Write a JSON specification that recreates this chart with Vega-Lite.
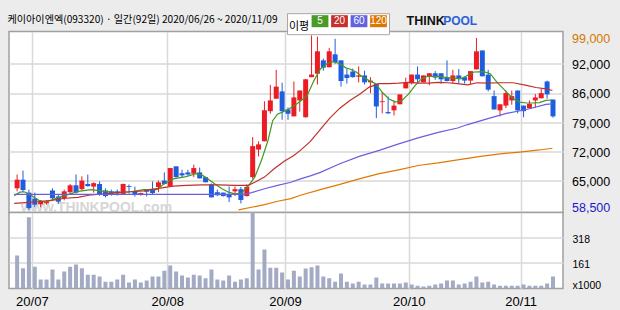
{
  "$schema": "https://vega.github.io/schema/vega-lite/v6.json",
  "background": "#ececec",
  "padding": {"left": 6, "top": 12.5, "right": 20, "bottom": 10},
  "bounds": "flush",
  "spacing": 0,
  "datasets": {
    "candles": [
      {"i":0,"o":63500,"c":65500,"h":66700,"l":62800,"v":207},
      {"i":1,"o":65500,"c":63100,"h":67600,"l":62600,"v":127},
      {"i":2,"o":62500,"c":58900,"h":63200,"l":58500,"v":447},
      {"i":3,"o":61100,"c":59700,"h":62500,"l":59100,"v":137},
      {"i":4,"o":59800,"c":60400,"h":60700,"l":59100,"v":56},
      {"i":5,"o":60000,"c":60300,"h":60700,"l":59700,"v":56},
      {"i":6,"o":63000,"c":61200,"h":63500,"l":60700,"v":119},
      {"i":7,"o":61600,"c":60400,"h":62100,"l":59900,"v":56},
      {"i":8,"o":61200,"c":62800,"h":63200,"l":60700,"v":106},
      {"i":9,"o":62600,"c":64200,"h":64500,"l":62200,"v":137},
      {"i":10,"o":64200,"c":62500,"h":66700,"l":62300,"v":150},
      {"i":11,"o":63300,"c":65300,"h":66300,"l":63000,"v":127},
      {"i":12,"o":64500,"c":64000,"h":66700,"l":63900,"v":87},
      {"i":13,"o":63900,"c":64700,"h":64900,"l":62500,"v":87},
      {"i":14,"o":64500,"c":62200,"h":65100,"l":61800,"v":75},
      {"i":15,"o":63000,"c":61700,"h":63500,"l":61400,"v":43},
      {"i":16,"o":62800,"c":62200,"h":63200,"l":61800,"v":43},
      {"i":17,"o":62800,"c":62300,"h":63200,"l":61800,"v":56},
      {"i":18,"o":62200,"c":64500,"h":64600,"l":62100,"v":87},
      {"i":19,"o":64000,"c":63800,"h":64400,"l":62300,"v":37},
      {"i":20,"o":62800,"c":62100,"h":63900,"l":61600,"v":56},
      {"i":21,"o":62000,"c":62400,"h":62500,"l":61800,"v":37},
      {"i":22,"o":63000,"c":62700,"h":63200,"l":61600,"v":50},
      {"i":23,"o":63400,"c":62400,"h":65100,"l":62100,"v":75},
      {"i":24,"o":63800,"c":64900,"h":65300,"l":62600,"v":75},
      {"i":25,"o":65300,"c":64500,"h":67200,"l":64400,"v":112},
      {"i":26,"o":64000,"c":68200,"h":68200,"l":63900,"v":144},
      {"i":27,"o":68600,"c":66100,"h":68600,"l":66000,"v":106},
      {"i":28,"o":67000,"c":66500,"h":67800,"l":66100,"v":81},
      {"i":29,"o":67200,"c":66700,"h":67800,"l":66500,"v":69},
      {"i":30,"o":66900,"c":68200,"h":69000,"l":66100,"v":87},
      {"i":31,"o":67200,"c":65800,"h":68300,"l":65800,"v":81},
      {"i":32,"o":66100,"c":64900,"h":66200,"l":64900,"v":64},
      {"i":33,"o":64400,"c":61400,"h":64600,"l":61400,"v":119},
      {"i":34,"o":62600,"c":61900,"h":63200,"l":61700,"v":56},
      {"i":35,"o":62500,"c":61700,"h":62500,"l":61600,"v":50},
      {"i":36,"o":62200,"c":61400,"h":63900,"l":60300,"v":81},
      {"i":37,"o":62800,"c":63300,"h":63900,"l":61700,"v":43},
      {"i":38,"o":63300,"c":60800,"h":63800,"l":60000,"v":56},
      {"i":39,"o":61700,"c":63800,"h":64400,"l":61600,"v":64},
      {"i":40,"o":66100,"c":73300,"h":75400,"l":65700,"v":520},
      {"i":41,"o":72500,"c":73700,"h":74400,"l":70900,"v":119},
      {"i":42,"o":74400,"c":81600,"h":83700,"l":74400,"v":244},
      {"i":43,"o":81400,"c":83900,"h":87500,"l":80800,"v":131},
      {"i":44,"o":84300,"c":87100,"h":91000,"l":84300,"v":131},
      {"i":45,"o":86000,"c":81400,"h":88000,"l":79400,"v":100},
      {"i":46,"o":81800,"c":80800,"h":82300,"l":79400,"v":56},
      {"i":47,"o":80200,"c":84600,"h":88300,"l":80200,"v":112},
      {"i":48,"o":83900,"c":86200,"h":86200,"l":81300,"v":75},
      {"i":49,"o":80000,"c":88800,"h":88900,"l":79900,"v":125},
      {"i":50,"o":89300,"c":89900,"h":99000,"l":89300,"v":133},
      {"i":51,"o":90100,"c":95300,"h":98700,"l":87600,"v":144},
      {"i":52,"o":93200,"c":91500,"h":93600,"l":90800,"v":75},
      {"i":53,"o":91600,"c":95300,"h":96100,"l":91600,"v":64},
      {"i":54,"o":94600,"c":92800,"h":98200,"l":92400,"v":43},
      {"i":55,"o":93200,"c":88400,"h":93200,"l":87100,"v":94},
      {"i":56,"o":89900,"c":89100,"h":91200,"l":87800,"v":43},
      {"i":57,"o":90600,"c":89300,"h":91300,"l":89200,"v":31},
      {"i":58,"o":89400,"c":89700,"h":91800,"l":88100,"v":43},
      {"i":59,"o":89700,"c":88100,"h":90800,"l":87600,"v":25},
      {"i":60,"o":88100,"c":88500,"h":89300,"l":85600,"v":25},
      {"i":61,"o":87800,"c":82500,"h":87800,"l":79800,"v":69},
      {"i":62,"o":83500,"c":83700,"h":85800,"l":80900,"v":31},
      {"i":63,"o":81200,"c":80900,"h":84800,"l":80800,"v":31},
      {"i":64,"o":81600,"c":82700,"h":83900,"l":80400,"v":31},
      {"i":65,"o":83000,"c":85300,"h":85300,"l":83000,"v":31},
      {"i":66,"o":86700,"c":88100,"h":89200,"l":86700,"v":37},
      {"i":67,"o":87900,"c":89900,"h":89900,"l":87600,"v":25},
      {"i":68,"o":89900,"c":88800,"h":91800,"l":88100,"v":18},
      {"i":69,"o":88100,"c":89700,"h":89700,"l":88100,"v":12},
      {"i":70,"o":89500,"c":90200,"h":90200,"l":87400,"v":18},
      {"i":71,"o":90200,"c":89200,"h":90700,"l":88700,"v":25},
      {"i":72,"o":90200,"c":88800,"h":90200,"l":87800,"v":31},
      {"i":73,"o":89200,"c":88400,"h":93200,"l":88300,"v":50},
      {"i":74,"o":88400,"c":89700,"h":91000,"l":87800,"v":50},
      {"i":75,"o":89700,"c":89100,"h":91200,"l":87800,"v":25},
      {"i":76,"o":89300,"c":88500,"h":89300,"l":87800,"v":31},
      {"i":77,"o":88500,"c":90700,"h":90700,"l":87600,"v":43},
      {"i":78,"o":91100,"c":95300,"h":98400,"l":91100,"v":75},
      {"i":79,"o":95500,"c":89500,"h":95500,"l":89500,"v":37},
      {"i":80,"o":89900,"c":86400,"h":91000,"l":86000,"v":43},
      {"i":81,"o":84900,"c":81800,"h":86200,"l":81800,"v":25},
      {"i":82,"o":81600,"c":83000,"h":83000,"l":80200,"v":18},
      {"i":83,"o":82700,"c":85600,"h":86200,"l":82100,"v":18},
      {"i":84,"o":83900,"c":84900,"h":86200,"l":82900,"v":18},
      {"i":85,"o":86200,"c":81600,"h":86200,"l":80900,"v":18},
      {"i":86,"o":82700,"c":81400,"h":82700,"l":80000,"v":25},
      {"i":87,"o":82100,"c":83100,"h":83900,"l":82100,"v":18},
      {"i":88,"o":83900,"c":84600,"h":85400,"l":82200,"v":18},
      {"i":89,"o":84400,"c":85600,"h":86600,"l":84400,"v":18},
      {"i":90,"o":88300,"c":85300,"h":88500,"l":84300,"v":31},
      {"i":91,"o":84100,"c":80200,"h":84100,"l":79900,"v":75}
    ],
    "ma": [
      {"n":"5","i":-0.5,"v":61800},{"n":"5","i":0.5,"v":62600},{"n":"5","i":1.2,"v":62700},{"n":"5","i":2,"v":62200},{"n":"5","i":3,"v":61300},{"n":"5","i":3.7,"v":60700},{"n":"5","i":4.8,"v":60300},{"n":"5","i":6.5,"v":61100},{"n":"5","i":8.1,"v":61800},{"n":"5","i":10.35,"v":62800},{"n":"5","i":12.6,"v":63200},{"n":"5","i":14.8,"v":62800},{"n":"5","i":17,"v":62500},{"n":"5","i":19.25,"v":62700},{"n":"5","i":21.5,"v":63200},{"n":"5","i":23.7,"v":63200},{"n":"5","i":24.8,"v":64400},{"n":"5","i":26.5,"v":65700},{"n":"5","i":28.7,"v":66200},{"n":"5","i":30.35,"v":66900},{"n":"5","i":31.5,"v":66500},{"n":"5","i":32.6,"v":65500},{"n":"5","i":33.7,"v":64400},{"n":"5","i":34.8,"v":63400},{"n":"5","i":35.9,"v":62600},{"n":"5","i":37,"v":62200},{"n":"5","i":38.1,"v":62400},{"n":"5","i":39.25,"v":64000},{"n":"5","i":40.35,"v":66100},{"n":"5","i":41.5,"v":70000},{"n":"5","i":42.6,"v":74600},{"n":"5","i":43.4,"v":79200},{"n":"5","i":44.2,"v":80700},{"n":"5","i":45.9,"v":81700},{"n":"5","i":47.6,"v":83200},{"n":"5","i":49.25,"v":85000},{"n":"5","i":50.4,"v":88500},{"n":"5","i":51.5,"v":91200},{"n":"5","i":52.6,"v":92400},{"n":"5","i":53.7,"v":92900},{"n":"5","i":54.8,"v":92400},{"n":"5","i":55.9,"v":91400},{"n":"5","i":56.5,"v":91200},{"n":"5","i":57.6,"v":90500},{"n":"5","i":58.7,"v":89300},{"n":"5","i":59.8,"v":88500},{"n":"5","i":60.9,"v":87800},{"n":"5","i":62,"v":85800},{"n":"5","i":63.1,"v":84300},{"n":"5","i":64.25,"v":83500},{"n":"5","i":65.35,"v":83900},{"n":"5","i":66.5,"v":85400},{"n":"5","i":67.6,"v":87400},{"n":"5","i":68.7,"v":88900},{"n":"5","i":69.8,"v":89500},{"n":"5","i":71.5,"v":89500},{"n":"5","i":73.1,"v":89200},{"n":"5","i":75.35,"v":88900},{"n":"5","i":77.6,"v":90500},{"n":"5","i":79.25,"v":90600},{"n":"5","i":80.35,"v":90100},{"n":"5","i":81.5,"v":88100},{"n":"5","i":82.6,"v":86600},{"n":"5","i":83.4,"v":85400},{"n":"5","i":84.25,"v":84300},{"n":"5","i":85.35,"v":83500},{"n":"5","i":86.5,"v":83300},{"n":"5","i":87.6,"v":83300},{"n":"5","i":88.7,"v":83400},{"n":"5","i":89.8,"v":83900},{"n":"5","i":90.9,"v":84000},
      {"n":"20","i":-0.5,"v":60000},{"n":"20","i":1.5,"v":60200},{"n":"20","i":3.7,"v":60400},{"n":"20","i":5.9,"v":60700},{"n":"20","i":8.1,"v":61200},{"n":"20","i":10.35,"v":61400},{"n":"20","i":12.6,"v":62000},{"n":"20","i":14.8,"v":62200},{"n":"20","i":17,"v":62500},{"n":"20","i":19.25,"v":62700},{"n":"20","i":21.5,"v":62900},{"n":"20","i":24,"v":63500},{"n":"20","i":26.5,"v":64000},{"n":"20","i":28.7,"v":64200},{"n":"20","i":31.5,"v":64300},{"n":"20","i":34.25,"v":64300},{"n":"20","i":37,"v":64200},{"n":"20","i":39.25,"v":64200},{"n":"20","i":40.35,"v":64900},{"n":"20","i":42,"v":66100},{"n":"20","i":43.7,"v":68100},{"n":"20","i":45.35,"v":69800},{"n":"20","i":47,"v":71100},{"n":"20","i":48.1,"v":72300},{"n":"20","i":49.8,"v":74400},{"n":"20","i":51.5,"v":77200},{"n":"20","i":53.1,"v":79800},{"n":"20","i":54.8,"v":82100},{"n":"20","i":56.5,"v":83900},{"n":"20","i":58.1,"v":85300},{"n":"20","i":59.8,"v":87000},{"n":"20","i":61.5,"v":87800},{"n":"20","i":63.1,"v":87800},{"n":"20","i":64.8,"v":87900},{"n":"20","i":66.5,"v":88100},{"n":"20","i":68.1,"v":87900},{"n":"20","i":69.8,"v":87900},{"n":"20","i":71.5,"v":88100},{"n":"20","i":73.1,"v":88000},{"n":"20","i":74.8,"v":87800},{"n":"20","i":76.5,"v":87500},{"n":"20","i":78.1,"v":88000},{"n":"20","i":79.8,"v":87900},{"n":"20","i":82,"v":88000},{"n":"20","i":84.25,"v":88000},{"n":"20","i":86.5,"v":87400},{"n":"20","i":88.1,"v":86900},{"n":"20","i":89.8,"v":86600},{"n":"20","i":90.9,"v":86200},
      {"n":"60","i":-0.5,"v":62100},{"n":"60","i":20,"v":62100},{"n":"60","i":38.6,"v":62100},{"n":"60","i":39.8,"v":62500},{"n":"60","i":42,"v":63400},{"n":"60","i":44.25,"v":64200},{"n":"60","i":46.5,"v":64900},{"n":"60","i":48.1,"v":65700},{"n":"60","i":49.8,"v":66400},{"n":"60","i":51.5,"v":67200},{"n":"60","i":54.8,"v":69200},{"n":"60","i":58.1,"v":70900},{"n":"60","i":61.5,"v":72300},{"n":"60","i":64.8,"v":73800},{"n":"60","i":68.1,"v":75200},{"n":"60","i":71.5,"v":76500},{"n":"60","i":74.8,"v":77500},{"n":"60","i":76.5,"v":78300},{"n":"60","i":79.8,"v":79600},{"n":"60","i":83.1,"v":80900},{"n":"60","i":86.5,"v":81800},{"n":"60","i":89.8,"v":83000},{"n":"60","i":90.9,"v":83100},
      {"n":"120","i":37.6,"v":58500},{"n":"120","i":39.8,"v":59100},{"n":"120","i":42,"v":59700},{"n":"120","i":44.25,"v":60500},{"n":"120","i":46.5,"v":61100},{"n":"120","i":48.1,"v":61900},{"n":"120","i":51.5,"v":63200},{"n":"120","i":54.8,"v":64400},{"n":"120","i":58.1,"v":65700},{"n":"120","i":61.5,"v":66900},{"n":"120","i":64.8,"v":67800},{"n":"120","i":68.1,"v":68800},{"n":"120","i":71.5,"v":69400},{"n":"120","i":75.35,"v":70200},{"n":"120","i":78.7,"v":70900},{"n":"120","i":82,"v":71500},{"n":"120","i":85.35,"v":71900},{"n":"120","i":88.7,"v":72400},{"n":"120","i":90.9,"v":72800}
    ]
  },
  "vconcat": [
    {
      "width": 554,
      "height": 181,
      "encoding": {
        "x": {
          "field": "i", "type": "quantitative",
          "scale": {"domain": [-0.53, 91.85], "nice": false, "zero": false},
          "axis": {
            "values": [2.5, 25.5, 45.5, 66.5, 85.5], "labels": false, "grid": true,
            "title": "www.THINKPOOL.com", "titleX": 87, "titleY": -1, "titleAlign": "center",
            "titleBaseline": "alphabetic", "titleFont": "Liberation Sans", "titleFontSize": 14,
            "titleFontWeight": "bold", "titleColor": "#d6d6d6"
          }
        }
      },
      "layer": [
        {
          "data": {"name": "candles"},
          "mark": {"type": "rule", "strokeWidth": 1},
          "encoding": {
            "y": {
              "field": "l", "type": "quantitative", "title": "POOL",
              "scale": {"domain": [57887, 99897], "nice": false, "zero": false},
              "axis": {
                "orient": "right",
                "values": [58500, 65200, 72000, 78800, 85600, 92400, 99000],
                "labelExpr": "datum.value == 58500 ? '58,500' : format(round(datum.value / 1000) * 1000, ',')",
                "labelFontSize": 12.5, "labelPadding": 8.5,
                "labelOffset": {"condition": [{"test": "datum.value == 99000", "value": 3}, {"test": "datum.value == 58500", "value": -2.5}], "value": 0.8},
                "labelColor": {"condition": [{"test": "datum.value == 99000", "value": "#d47800"}, {"test": "datum.value == 58500", "value": "#1a1acc"}], "value": "#000000"},
                "gridOpacity": {"condition": {"test": "datum.value == 58500 || datum.value == 99000", "value": 0}, "value": 1},
                "title": "POOL", "titleX": -120.3, "titleY": -11, "titleAngle": 0, "titleAlign": "left",
                "titleBaseline": "middle", "titleFont": "Liberation Sans", "titleFontSize": 12,
                "titleFontWeight": "bold", "titleColor": "#2a62d6"
              }
            },
            "y2": {"field": "h"},
            "color": {"condition": {"test": "datum.c >= datum.o", "value": "#ec1c24"}, "value": "#1f5ddf"}
          }
        },
        {
          "data": {"name": "candles"},
          "mark": {"type": "bar", "size": 5},
          "encoding": {
            "y": {
              "field": "o", "type": "quantitative", "title": "POOL",
              "scale": {"domain": [57887, 99897], "nice": false, "zero": false},
              "axis": {
                "orient": "right",
                "values": [58500, 65200, 72000, 78800, 85600, 92400, 99000],
                "labelExpr": "datum.value == 58500 ? '58,500' : format(round(datum.value / 1000) * 1000, ',')",
                "labelFontSize": 12.5, "labelPadding": 8.5,
                "labelOffset": {"condition": [{"test": "datum.value == 99000", "value": 3}, {"test": "datum.value == 58500", "value": -2.5}], "value": 0.8},
                "labelColor": {"condition": [{"test": "datum.value == 99000", "value": "#d47800"}, {"test": "datum.value == 58500", "value": "#1a1acc"}], "value": "#000000"},
                "gridOpacity": {"condition": {"test": "datum.value == 58500 || datum.value == 99000", "value": 0}, "value": 1},
                "title": "POOL", "titleX": -120.3, "titleY": -11, "titleAngle": 0, "titleAlign": "left",
                "titleBaseline": "middle", "titleFont": "Liberation Sans", "titleFontSize": 12,
                "titleFontWeight": "bold", "titleColor": "#2a62d6"
              }
            },
            "y2": {"field": "c"},
            "color": {"condition": {"test": "datum.c >= datum.o", "value": "#ec1c24"}, "value": "#1f5ddf"}
          }
        },
        {
          "data": {"name": "ma"},
          "mark": {"type": "line"},
          "encoding": {
            "y": {
              "field": "v", "type": "quantitative", "title": "POOL",
              "scale": {"domain": [57887, 99897], "nice": false, "zero": false},
              "axis": {
                "orient": "right",
                "values": [58500, 65200, 72000, 78800, 85600, 92400, 99000],
                "labelExpr": "datum.value == 58500 ? '58,500' : format(round(datum.value / 1000) * 1000, ',')",
                "labelFontSize": 12.5, "labelPadding": 8.5,
                "labelOffset": {"condition": [{"test": "datum.value == 99000", "value": 3}, {"test": "datum.value == 58500", "value": -2.5}], "value": 0.8},
                "labelColor": {"condition": [{"test": "datum.value == 99000", "value": "#d47800"}, {"test": "datum.value == 58500", "value": "#1a1acc"}], "value": "#000000"},
                "gridOpacity": {"condition": {"test": "datum.value == 58500 || datum.value == 99000", "value": 0}, "value": 1},
                "title": "POOL", "titleX": -120.3, "titleY": -11, "titleAngle": 0, "titleAlign": "left",
                "titleBaseline": "middle", "titleFont": "Liberation Sans", "titleFontSize": 12,
                "titleFontWeight": "bold", "titleColor": "#2a62d6"
              }
            },
            "color": {
              "field": "n", "type": "nominal",
              "scale": {"domain": ["5", "20", "60", "120"], "range": ["#3f9a22", "#c0302a", "#6a5ee0", "#e07800"]},
              "legend": {
                "title": "이평", "orient": "none", "legendX": 278, "legendY": -18.3, "direction": "horizontal",
                "titleOrient": "left", "titleAngle": 0, "titleFont": "Noto Sans CJK KR", "titleFontSize": 11,
                "titleFontWeight": "normal", "titleColor": "#000000", "titlePadding": 4, "titleBaseline": "top",
                "fillColor": "white", "strokeColor": "#a8a8a8", "padding": 2,
                "symbolType": "M-1.4,-1H1.4V1H-1.4Z", "symbolSize": 144, "symbolStrokeWidth": 0,
                "labelColor": "white", "labelFont": "Liberation Sans", "labelFontSize": 10,
                "labelAlign": "center", "labelOffset": -6, "columnPadding": 1.5,
                "encode": {
                  "symbols": {
                    "update": {
                      "fill": {"signal": "datum.value == '5' ? '#4a9a28' : datum.value == '20' ? '#c8302c' : datum.value == '60' ? '#6262e0' : '#dc7800'"},
                      "fillOpacity": {"value": 1},
                      "strokeWidth": {"value": 0}
                    }
                  }
                }
              }
            },
            "strokeWidth": {"value": 1.2}
          }
        }
      ]
    },
    {
      "width": 554,
      "height": 76,
      "data": {"name": "candles"},
      "mark": {"type": "bar", "size": 4, "color": "#a3aac3", "clip": true},
      "encoding": {
        "x": {
          "field": "i", "type": "quantitative",
          "scale": {"domain": [-0.53, 91.85], "nice": false, "zero": false},
          "axis": {
            "values": [2.5, 25.5, 45.5, 66.5, 85.5], "grid": true,
            "labelExpr": "datum.value < 10 ? '20/07' : datum.value < 30 ? '20/08' : datum.value < 50 ? '20/09' : datum.value < 70 ? '20/10' : '20/11'",
            "labelFontSize": 13, "labelPadding": 6.5,
            "title": "THINK", "titleX": 397, "titleY": -268, "titleAlign": "left", "titleBaseline": "middle",
            "titleFont": "Liberation Sans", "titleFontSize": 12.5, "titleFontWeight": "bold", "titleColor": "#111111"
          }
        },
        "y": {
          "field": "v", "type": "quantitative",
          "scale": {"domain": [0, 477], "nice": false},
          "axis": {
            "orient": "right", "values": [0, 161, 318],
            "labelExpr": "datum.value == 0 ? 'x1000' : datum.label",
            "labelFontSize": 10.5, "labelPadding": 9,
            "labelOffset": {"condition": {"test": "datum.value == 0", "value": -3}, "value": 2},
            "gridOpacity": {"condition": {"test": "datum.value == 0", "value": 0}, "value": 1},
            "title": "케이아이엔엑(093320) · 일간(92일) 2020/06/26 ~ 2020/11/09",
            "titleX": -556, "titleY": -193, "titleAngle": 0, "titleAlign": "left", "titleBaseline": "middle",
            "titleFont": "Noto Sans CJK KR", "titleFontSize": 10.1, "titleFontWeight": "normal", "titleColor": "#000000"
          }
        }
      }
    }
  ],
  "config": {
    "view": {"fill": "white", "stroke": "#a0a0a0", "strokeWidth": 1.5},
    "axis": {"domain": false, "ticks": false, "gridColor": "#d9d9d9", "gridWidth": 1.5, "labelFont": "Liberation Sans", "labelColor": "#000000", "labelOverlap": false}
  }
}
